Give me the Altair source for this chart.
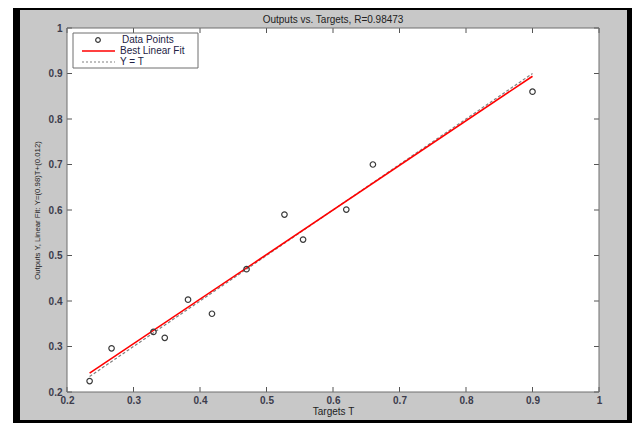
import altair as alt
import pandas as pd

# ---- data ----
targets = [0.234, 0.267, 0.330, 0.347, 0.382, 0.418, 0.470, 0.527, 0.555, 0.620, 0.660, 0.900]
outputs = [0.224, 0.296, 0.332, 0.319, 0.403, 0.372, 0.470, 0.590, 0.535, 0.601, 0.700, 0.860]
fit_slope = 0.98
fit_intercept = 0.012
r_value = 0.98473
x_ticks = [0.2, 0.3, 0.4, 0.5, 0.6, 0.7, 0.8, 0.9, 1.0]
y_ticks = [0.2, 0.3, 0.4, 0.5, 0.6, 0.7, 0.8, 0.9, 1.0]
legend_labels = ["Data Points", "Best Linear Fit", "Y = T"]
chart_title = f"Outputs vs. Targets, R={r_value}"

W, H = 532, 364
FONT = "Liberation Sans"
LABEL_COLOR = "#3c3c4c"

xs = alt.Scale(domain=[0.2, 1.0], nice=False, zero=False)
ys = alt.Scale(domain=[0.2, 1.0], nice=False, zero=False)

x_axis = alt.Axis(values=x_ticks, format="~g", tickSize=0, domain=False, grid=False,
                  labelFlush=False, labelOverlap=False,
                  labelFont=FONT, labelFontSize=10, labelFontWeight="bold", labelColor=LABEL_COLOR,
                  labelPadding=3, title="Targets T", titleFont=FONT, titleFontSize=10,
                  titleFontWeight="normal", titleColor="#222222", titlePadding=1)
y_axis = alt.Axis(values=y_ticks, format="~g", tickSize=0, domain=False, grid=False,
                  labelFlush=False, labelOverlap=False,
                  labelFont=FONT, labelFontSize=10, labelFontWeight="bold", labelColor=LABEL_COLOR,
                  labelPadding=5, title=f"Outputs Y, Linear Fit: Y=({fit_slope})T+({fit_intercept})",
                  titleFont=FONT, titleFontSize=7.8, titleFontWeight="normal", titleColor="#222222",
                  titlePadding=7)


def enc(chart, xf="T", yf="Y"):
    return chart.encode(
        x=alt.X(f"{xf}:Q", scale=xs, axis=x_axis),
        y=alt.Y(f"{yf}:Q", scale=ys, axis=y_axis),
    )


pts = pd.DataFrame({"T": targets, "Y": outputs})
tmin, tmax = min(targets), max(targets)
fit_df = pd.DataFrame({"T": [tmin, tmax], "Y": [fit_slope * tmin + fit_intercept, fit_slope * tmax + fit_intercept]})
ident_df = pd.DataFrame({"T": [tmin, tmax], "Y": [tmin, tmax]})
one = pd.DataFrame({"a": [0]})
xt = pd.DataFrame({"v": x_ticks})
yt = pd.DataFrame({"v": y_ticks})

# figure frame strips (decoration), chart background is the gray figure colour
def strip(x1, x2, y1, y2, color):
    return alt.Chart(one).mark_rect(color=color, clip=False).encode(
        x=alt.value(x1), x2=alt.value(x2), y=alt.value(y1), y2=alt.value(y2))

frame = [
    strip(-59, -54, -20, 400, "#ffffff"),
    strip(-54, -47, -20, 400, "#000000"),
    strip(560, 568, -20, 400, "#000000"),
    strip(-54, 568, -20, -18, "#000000"),
    strip(-54, 568, 392, 400, "#000000"),
]

DASH = [3, 2]
DASH_COLOR = "#808080"
ident = enc(alt.Chart(ident_df).mark_line(color=DASH_COLOR, strokeWidth=1.2, strokeDash=DASH))
fit = enc(alt.Chart(fit_df).mark_line(color="#ff0000", strokeWidth=1.6))
points = enc(alt.Chart(pts).mark_point(shape="circle", filled=False, color="#3a3a3a",
                                        size=30, strokeWidth=1.2, opacity=1))

tick_color = "#555555"
xt_bottom = alt.Chart(xt).mark_rule(color=tick_color, strokeWidth=1).encode(
    x=alt.X("v:Q", scale=xs, axis=x_axis), y=alt.value(H), y2=alt.value(H - 5))
xt_top = alt.Chart(xt).mark_rule(color=tick_color, strokeWidth=1).encode(
    x=alt.X("v:Q", scale=xs, axis=x_axis), y=alt.value(0), y2=alt.value(5))
yt_left = alt.Chart(yt).mark_rule(color=tick_color, strokeWidth=1).encode(
    y=alt.Y("v:Q", scale=ys, axis=y_axis), x=alt.value(0), x2=alt.value(5))
yt_right = alt.Chart(yt).mark_rule(color=tick_color, strokeWidth=1).encode(
    y=alt.Y("v:Q", scale=ys, axis=y_axis), x=alt.value(W), x2=alt.value(W - 5))

border = alt.Chart(one).mark_rect(fill=None, stroke="#6e6e6e", strokeWidth=1).encode(
    x=alt.value(0), x2=alt.value(W), y=alt.value(0), y2=alt.value(H))

# chart title (as text so that it sits just above the plot)
title_txt = alt.Chart(one).mark_text(text=chart_title, align="center", baseline="middle", font=FONT,
                                     fontSize=10, color="#222222", clip=False).encode(
    x=alt.value(W / 2), y=alt.value(-8))

# legend (decoration)
leg_box = alt.Chart(one).mark_rect(fill="#ffffff", stroke="#6e6e6e", strokeWidth=1).encode(
    x=alt.value(6), x2=alt.value(131), y=alt.value(5), y2=alt.value(40))
leg_pt = alt.Chart(one).mark_point(shape="circle", filled=False, color="#3a3a3a", size=22,
                                   strokeWidth=1.2, opacity=1).encode(x=alt.value(31), y=alt.value(12))
leg_fit = alt.Chart(one).mark_rule(color="#ff0000", strokeWidth=1.6).encode(
    x=alt.value(15), x2=alt.value(48), y=alt.value(23))
leg_id = alt.Chart(one).mark_rule(color=DASH_COLOR, strokeWidth=1.2, strokeDash=[2, 2]).encode(
    x=alt.value(15), x2=alt.value(48), y=alt.value(34))
leg_txt = []
for lab, lx, ly in zip(legend_labels, [55, 53, 53], [12, 23, 34]):
    leg_txt.append(alt.Chart(one).mark_text(text=lab, align="left", baseline="middle", font=FONT,
                                            fontSize=10, color="#222244").encode(
        x=alt.value(lx), y=alt.value(ly)))

chart = alt.layer(
    *frame, ident, fit, points,
    xt_bottom, xt_top, yt_left, yt_right, border, title_txt,
    leg_box, leg_pt, leg_fit, leg_id, *leg_txt,
).properties(
    width=W, height=H,
    padding={"left": 59, "top": 20, "right": 33, "bottom": 31},
    autosize=alt.AutoSizeParams(type="none"),
    background="#c8c8c8",
).configure_view(stroke=None, fill="#ffffff")

chart.save("out.html", embed_options={"renderer": "svg", "actions": False})
